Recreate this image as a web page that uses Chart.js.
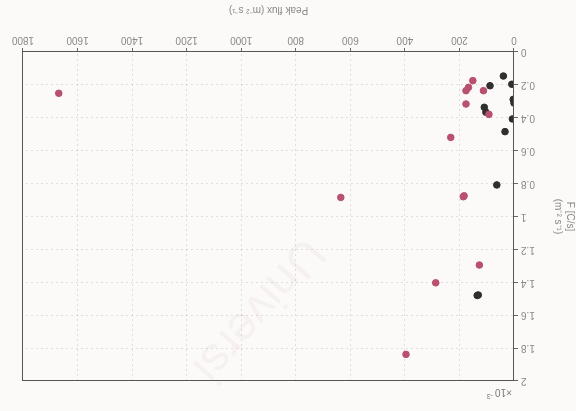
<!DOCTYPE html>
<html lang="en">
<head>
<meta charset="UTF-8">
<script src="https://cdn.jsdelivr.net/npm/chart.js@4/dist/chart.umd.min.js"></script>
<style>
  body { margin: 0; background: #fcfaf8; }
  /* the scanned page is upside down, so the whole chart is turned over */
  #wrap { width: 576px; height: 411px; transform: rotate(180deg); }
</style>
</head>
<body>
<div id="wrap"><canvas id="scan-chart" width="576" height="411"></canvas></div>
<script>
// peak flux (x) vs F (y, x10^-3)
var pinkX = [151, 167, 176, 112, 176, 92, 232, 183, 186, 127, 287, 396, 1669, 635];
var pinkY = [0.174, 0.215, 0.235, 0.235, 0.316, 0.379, 0.519, 0.874, 0.88, 1.295, 1.403, 1.838, 0.251, 0.884];
var darkX = [39, 88, 8, 3, 0, 109, 103, 6, 33, 63, 131, 135];
var darkY = [0.146, 0.205, 0.196, 0.288, 0.31, 0.336, 0.366, 0.407, 0.484, 0.808, 1.477, 1.48];
var xTicks = [0, 200, 400, 600, 800, 1000, 1200, 1400, 1600, 1800];
var yTicks = [0, 0.2, 0.4, 0.6, 0.8, 1, 1.2, 1.4, 1.6, 1.8, 2];

function pts(xs, ys) {
    var out = [];
    for (var i = 0; i < xs.length; i++) out.push({x: xs[i], y: ys[i]});
    return out;
}

var font = {family: "'Liberation Sans', Arial, sans-serif", size: 10};

// frame round the plot, the x10^-3 note and the faint watermark
var extras = {
    id: 'extras',
    beforeDraw: function (chart) {
        var c = chart.ctx;
        c.save();
        c.fillStyle = '#fcfaf8';
        c.fillRect(0, 0, chart.width, chart.height);
        c.translate(272, 176);
        c.rotate(-0.86);
        c.font = "48px 'Liberation Sans', Arial, sans-serif";
        c.fillStyle = 'rgba(200,170,180,0.11)';
        c.fillText('Universi', 0, 0);
        c.restore();
    },
    afterDraw: function (chart) {
        var a = chart.chartArea, c = chart.ctx;
        c.save();
        c.strokeStyle = '#555';
        c.lineWidth = 1;
        c.strokeRect(a.left + 0.5, a.top + 0.5, a.right - a.left, a.bottom - a.top);
        c.fillStyle = '#777';
        c.font = "10px 'Liberation Sans', Arial, sans-serif";
        c.fillText('\u00d710', a.left + 2, a.top - 8);
        c.font = "7px 'Liberation Sans', Arial, sans-serif";
        c.fillText('-3', a.left + 21, a.top - 13);
        c.restore();
    }
};

var ctx = document.getElementById('scan-chart').getContext('2d');
var chart = new Chart(ctx, {
    type: 'scatter',
    data: {
        datasets: [
            {
                label: 'pink',
                data: pts(pinkX, pinkY),
                backgroundColor: '#b8506e',
                borderColor: '#b8506e',
                pointRadius: 3.3
            },
            {
                label: 'dark',
                data: pts(darkX, darkY),
                backgroundColor: '#2f2f2f',
                borderColor: '#2f2f2f',
                pointRadius: 3.3
            }
        ]
    },
    options: {
        responsive: false,
        animation: false,
        layout: {padding: {top: 30, right: 23, left: 0, bottom: 0}},
        plugins: {legend: {display: false}, tooltip: {enabled: false}},
        scales: {
            x: {
                type: 'linear',
                min: 0, max: 1800,
                afterBuildTicks: function (s) { s.ticks = xTicks.map(function (v) { return {value: v}; }); },
                afterFit: function (s) { s.height = 52; },
                ticks: {color: '#888', font: font, maxRotation: 0, padding: 2,
                        callback: function (v) { return String(v); }},
                grid: {color: 'rgba(0,0,0,0.11)', tickLength: 4, tickColor: '#666'},
                border: {color: '#555', dash: [2, 3]},
                title: {display: true, text: 'Peak flux (m\u207b\u00b2 s\u207b\u00b9)', color: '#888', font: font, padding: {top: 4}}
            },
            y: {
                type: 'linear',
                min: 0, max: 2,
                afterBuildTicks: function (s) { s.ticks = yTicks.map(function (v) { return {value: v}; }); },
                afterFit: function (s) { s.width = 62; },
                ticks: {color: '#888', font: font, padding: 3,
                        callback: function (v) { return String(Math.round(v * 10) / 10); }},
                grid: {color: 'rgba(0,0,0,0.11)', tickLength: 4, tickColor: '#666'},
                border: {color: '#555', dash: [2, 3]},
                title: {display: true, text: ['F [C/s]', '(m\u207b\u00b2 s\u207b\u00b9)'], color: '#888', font: font, padding: 0}
            }
        }
    },
    plugins: [extras]
});
</script>
</body>
</html>
